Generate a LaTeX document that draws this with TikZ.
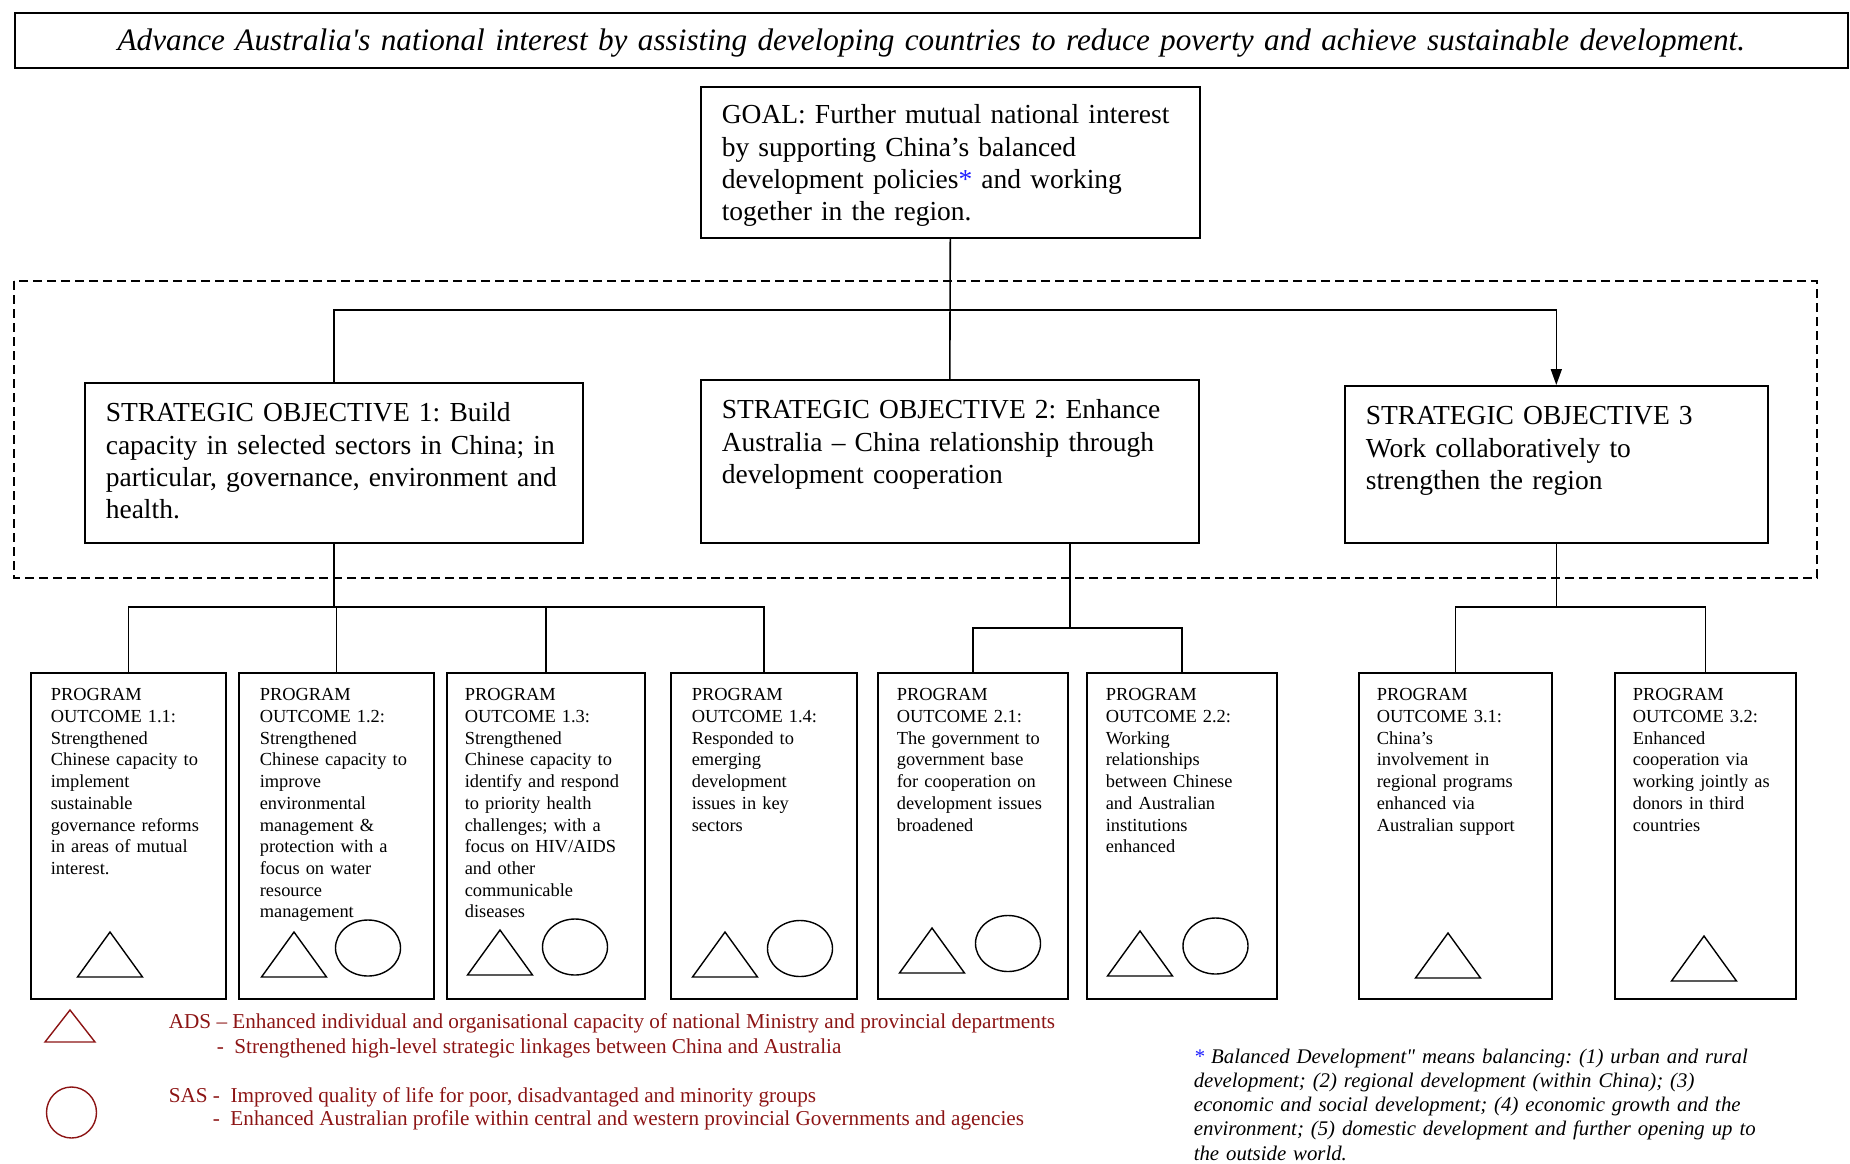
\documentclass[tikz,border=0pt]{standalone}
\usepackage{fontspec}
\setmainfont{Liberation Serif}[Ligatures=TeXOff]
\usetikzlibrary{arrows.meta,calc}
\definecolor{legred}{RGB}{140,20,20}
\definecolor{starblue}{RGB}{30,30,255}
\newcommand\bannerfont{\fontsize{31.2}{36}\selectfont\itshape}
\newcommand\goalfont{\fontsize{27.5}{32.3}\selectfont}
\newcommand\pofont{\fontsize{18.4}{21.7}\selectfont}
\newcommand\legfont{\fontsize{21.2}{23}\selectfont}
\newcommand\notefont{\fontsize{20.8}{24.3}\selectfont\itshape}
\frenchspacing

\begin{document}
\begin{tikzpicture}[x=1pt, y=-1pt, line width=1.6pt,
    box/.style={draw, anchor=north west, inner ysep=0pt, align=left},
    obox/.style={box, font=\goalfont, inner xsep=21pt, text height=39pt},
    pbox/.style={box, font=\pofont, text height=28pt, text depth=298pt},
    symb/.style={line width=1.4pt, line join=miter},
    legtext/.style={anchor=base west, inner sep=0pt, text=legred, font=\legfont}]
    \useasboundingbox (0,0) rectangle (1850,1163);

    % mission and goal
    \node[box, font=\bannerfont, inner xsep=0pt, text width=1833pt, align=center, text height=38pt, text depth=17pt] (mission) at (14,12) {Advance Australia's national interest by assisting developing countries to reduce poverty and achieve sustainable development.};
    \node[obox, text width=457pt, text height=37pt, text depth=114pt] (goal) at (700,86) {GOAL: Further mutual national interest\\ by supporting China’s balanced\\ development policies{\color{starblue}*} and working\\ together in the region.};

    % strategic objectives
    \draw[dash pattern=on 9pt off 5pt, line width=1.4pt] (14,281) rectangle (1817,578);
    \node[obox, text width=456pt, text depth=121pt] (so1) at (84,382) {STRATEGIC OBJECTIVE 1: Build\\ capacity in selected sectors in China; in\\ particular, governance, environment and\\ health.};
    \node[obox, text width=456pt, text depth=124pt] (so2) at (700,379) {STRATEGIC OBJECTIVE 2: Enhance\\ Australia – China relationship through\\ development cooperation};
    \node[obox, text width=381pt, text depth=118pt] (so3) at (1344,385) {STRATEGIC OBJECTIVE 3\\ Work collaboratively to\\ strengthen the region};

    % program outcomes
    \node[pbox, inner xsep=20pt, text width=155pt] (po11) at (30,672) {PROGRAM\\ OUTCOME 1.1:\\ Strengthened\\ Chinese capacity to\\ implement\\ sustainable\\ governance reforms\\ in areas of mutual\\ interest.};
    \node[pbox, inner xsep=21pt, text width=153pt] (po12) at (238,672) {PROGRAM\\ OUTCOME 1.2:\\ Strengthened\\ Chinese capacity to\\ improve\\ environmental\\ management \&\\ protection with a\\ focus on water\\ resource\\ management};
    \node[pbox, inner xsep=18pt, text width=162pt] (po13) at (446,672) {PROGRAM\\ OUTCOME 1.3:\\ Strengthened\\ Chinese capacity to\\ identify and respond\\ to priority health\\ challenges; with a\\ focus on HIV/AIDS\\ and other\\ communicable\\ diseases};
    \node[pbox, inner xsep=21pt, text width=144pt] (po14) at (670,672) {PROGRAM\\ OUTCOME 1.4:\\ Responded to\\ emerging\\ development\\ issues in key\\ sectors};
    \node[pbox, inner xsep=19pt, text width=152pt] (po21) at (877,672) {PROGRAM\\ OUTCOME 2.1:\\ The government to\\ government base\\ for cooperation on\\ development issues\\ broadened};
    \node[pbox, inner xsep=19pt, text width=152pt] (po22) at (1086,672) {PROGRAM\\ OUTCOME 2.2:\\ Working\\ relationships\\ between Chinese\\ and Australian\\ institutions\\ enhanced};
    \node[pbox, inner xsep=18pt, text width=157pt] (po31) at (1358,672) {PROGRAM\\ OUTCOME 3.1:\\ China’s\\ involvement in\\ regional programs\\ enhanced via\\ Australian support};
    \node[pbox, inner xsep=18pt, text width=145pt] (po32) at (1614,672) {PROGRAM\\ OUTCOME 3.2:\\ Enhanced\\ cooperation via\\ working jointly as\\ donors in third\\ countries};

    % connectors
    \coordinate (split) at (goal.south |- 0,310);
    \draw (goal.south) -- (so2.north);
    \draw (so1.north) |- (split);
    \draw[-{Triangle[length=16pt,width=11pt]}] (split) -| (so3.north);

    \coordinate (bus1) at (so1.south |- 0,607);
    \draw (so1.south) -- (bus1);
    \draw (po11.north) |- (bus1) -| (po14.north);
    \draw (po12.north) -- (po12.north |- bus1);
    \draw (po13.north) -- (po13.north |- bus1);

    \coordinate (so2out) at (so2.south -| 1070,0);
    \coordinate (bus2) at (1070,628);
    \draw (so2out) -- (bus2);
    \draw (po21.north) |- (bus2) -| (po22.north);

    \coordinate (bus3) at (so3.south |- 0,607);
    \draw (so3.south) -- (bus3);
    \draw (po31.north) |- (bus3) -| (po32.north);

    % ADS and SAS marks
    \foreach \x/\y in {110/932, 294/932, 500/930, 725/932, 932/928, 1140/931, 1448/933, 1704/936}
        \draw[symb] (\x,\y) -- ++(-32.5,45) -- ++(65,0) -- cycle;
    \foreach \x/\y in {368/948, 575/947, 800/948.5, 1008/943.5, 1215.5/946}
        \draw[symb] (\x,\y) ellipse [x radius=32.5, y radius=28];

    % legend
    \draw[symb, legred] (70,1010) -- ++(-25,32) -- ++(50,0) -- cycle;
    \draw[symb, legred] (71.5,1112.5) ellipse [x radius=25, y radius=25.5];
    \node[legtext] (adsa) at (168,1028) {ADS – Enhanced individual and organisational capacity of national Ministry and provincial departments};
    \node[legtext] (adsb) at (216,1053) {-\hspace{0.5em}Strengthened high-level strategic linkages between China and Australia};
    \node[legtext] (sasa) at (168,1102) {SAS -\hspace{0.5em}Improved quality of life for poor, disadvantaged and minority groups};
    \node[legtext] (sasb) at (212,1125) {-\hspace{0.5em}Enhanced Australian profile within central and western provincial Governments and agencies};

    % footnote
    \node[anchor=base west, inner sep=0pt, text width=640pt, align=left, font=\notefont] (note) at (1193,1063) {{\color{starblue}*} Balanced Development" means balancing: (1) urban and rural\\ development; (2) regional development (within China); (3)\\ economic and social development; (4) economic growth and the\\ environment; (5) domestic development and further opening up to\\ the outside world.};
\end{tikzpicture}
\end{document}
